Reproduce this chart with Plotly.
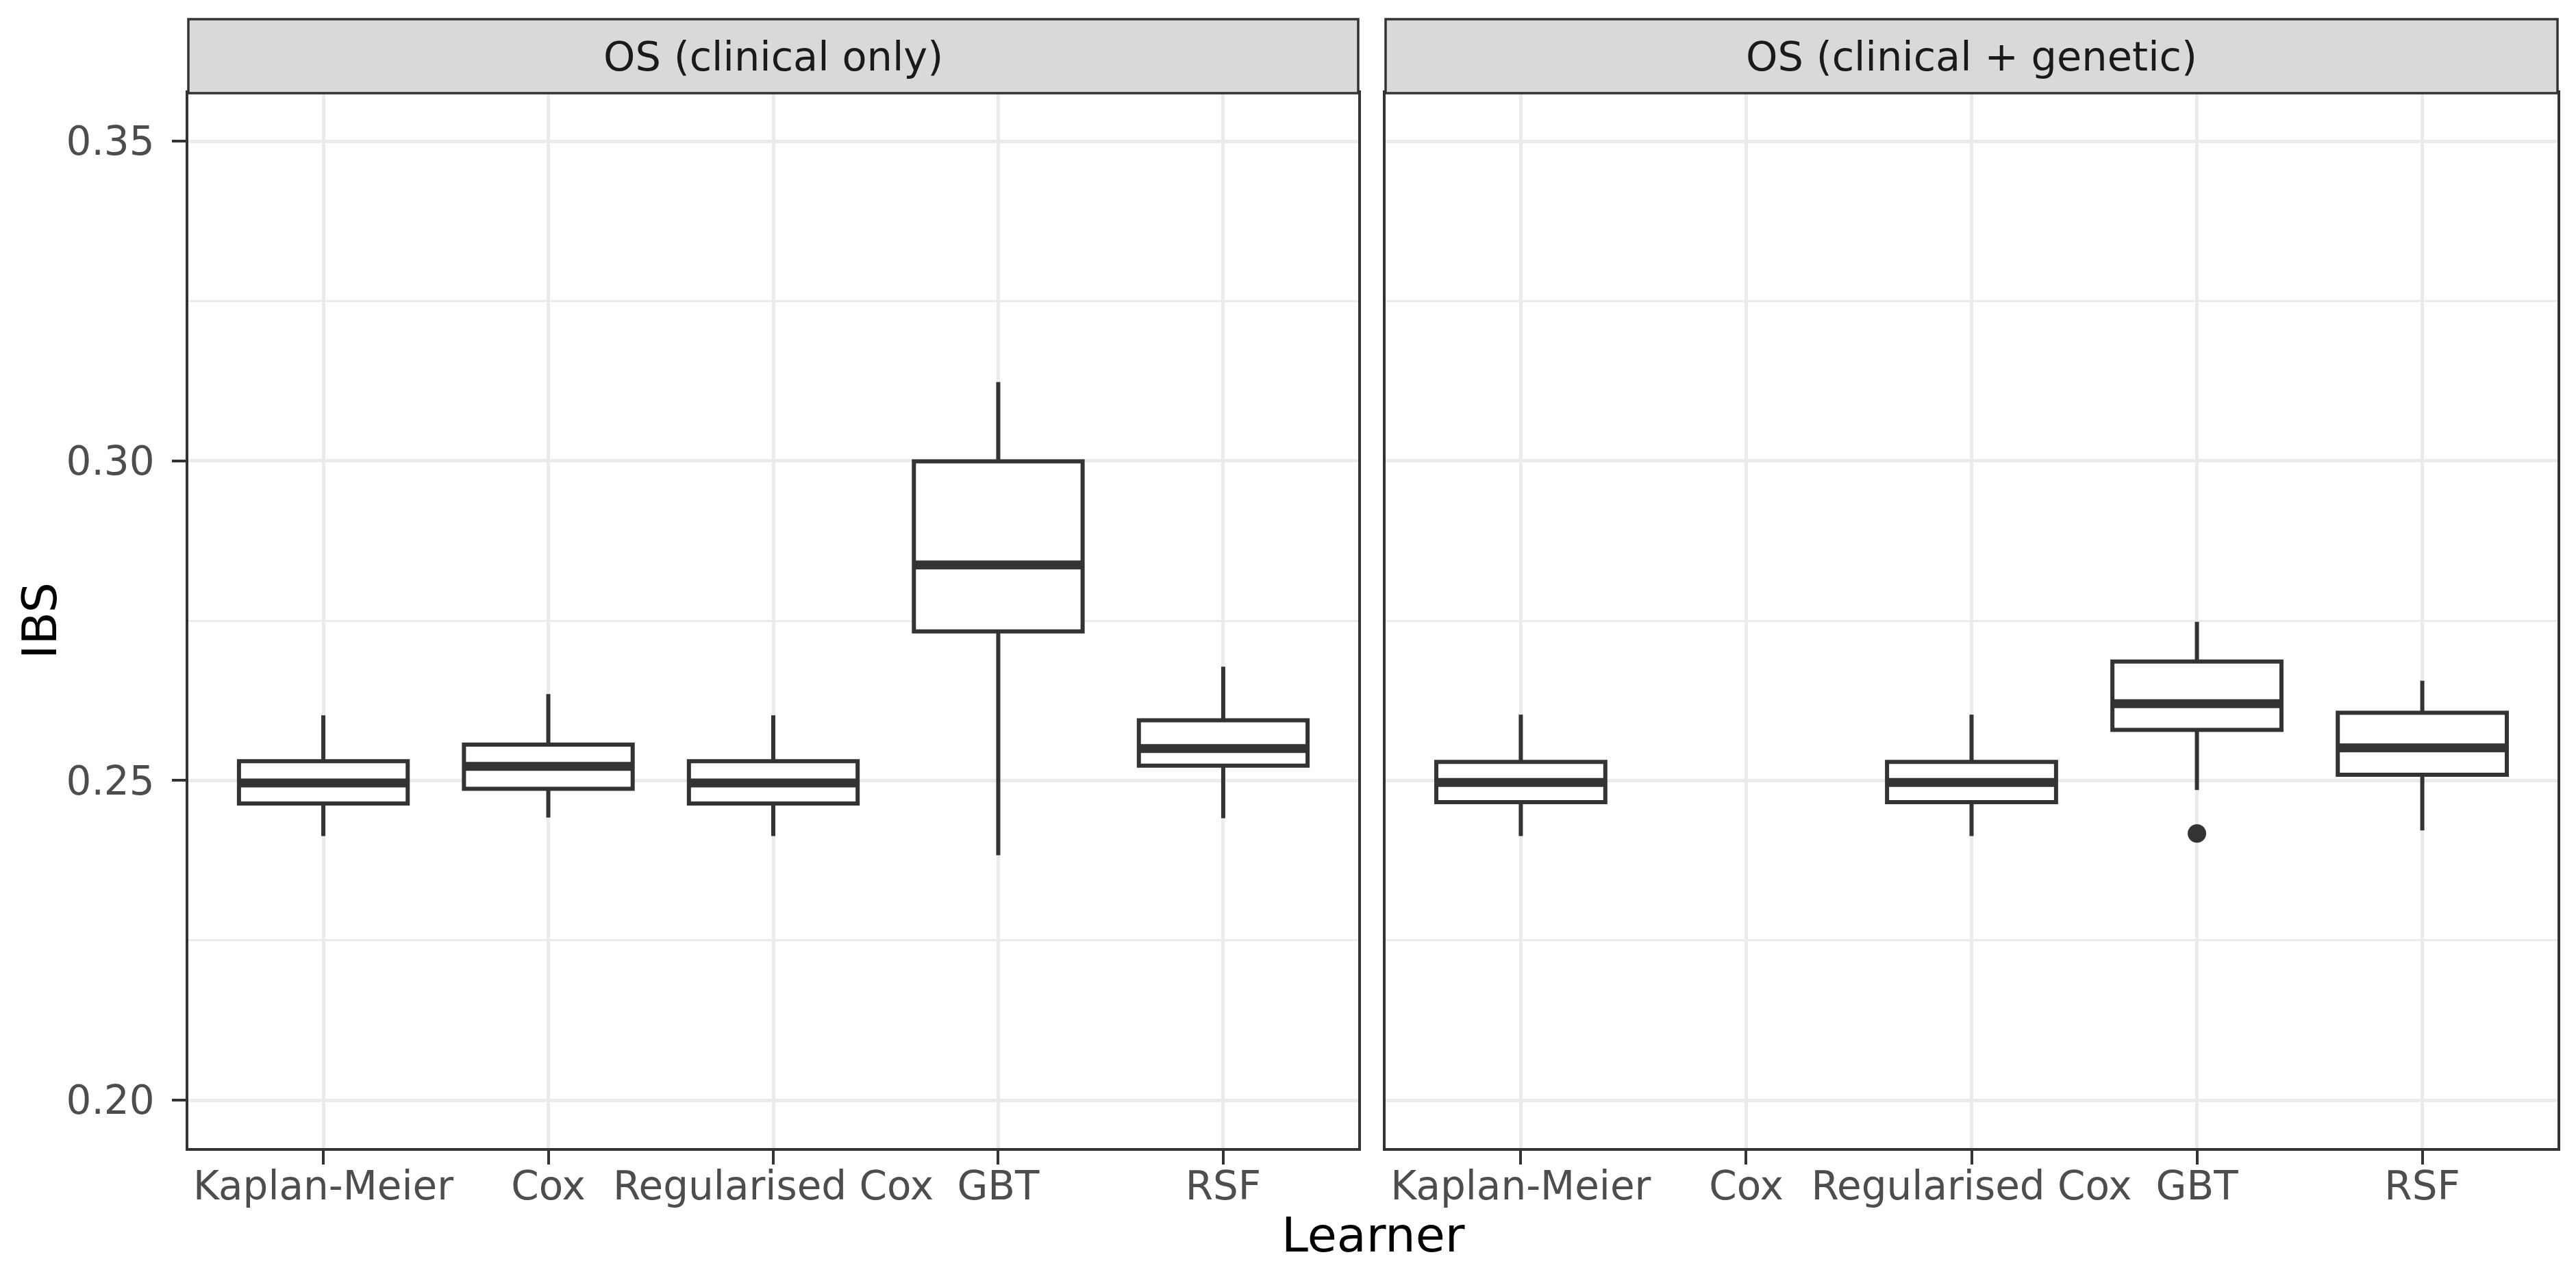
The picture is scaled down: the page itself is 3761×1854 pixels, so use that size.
import plotly.graph_objects as go

# ---------------- data ----------------
learners = ["Kaplan-Meier", "Cox", "Regularised Cox", "GBT", "RSF"]
panels = ["OS (clinical only)", "OS (clinical + genetic)"]

# clinical only
clin_lower = [0.2413, 0.2442, 0.2413, 0.2383, 0.2441]
clin_q1 = [0.2464, 0.2487, 0.2464, 0.2733, 0.2523]
clin_median = [0.2496, 0.2522, 0.2496, 0.2837, 0.2550]
clin_q3 = [0.2530, 0.2556, 0.2530, 0.2999, 0.2594]
clin_upper = [0.2602, 0.2635, 0.2602, 0.3123, 0.2678]

# clinical + genetic (Cox missing)
gen_lower = [0.2413, None, 0.2413, 0.2485, 0.2422]
gen_q1 = [0.2466, None, 0.2466, 0.2579, 0.2509]
gen_median = [0.2497, None, 0.2497, 0.2620, 0.2551]
gen_q3 = [0.2529, None, 0.2529, 0.2686, 0.2606]
gen_upper = [0.2603, None, 0.2603, 0.2748, 0.2656]

gen_outlier_learner = ["GBT"]
gen_outlier_value = [0.2417]

y_ticks = [0.20, 0.25, 0.30, 0.35]
y_limits = [0.20, 0.35]

# ---------------- styling ----------------
OFF = 8  # page body margin
W, H = 3761 - 2 * OFF, 1854 - 2 * OFF
ML = 275 - OFF
MT = 136 - OFF
MR = W - (3734 - OFF)
MB = H - (1676 - OFF)
BOX_W = 0.75
DARK = "#333333"
FONT = "DejaVu Sans"

fig = go.Figure()

series = [
    (clin_lower, clin_q1, clin_median, clin_q3, clin_upper),
    (gen_lower, gen_q1, gen_median, gen_q3, gen_upper),
]

for p, (lo, q1, md, q3, up) in enumerate(series):
    xa = "x" if p == 0 else "x2"
    ya = "y" if p == 0 else "y2"
    idx = [i for i in range(len(learners)) if md[i] is not None]
    fig.add_trace(go.Box(
        x=idx,
        q1=[q1[i] for i in idx],
        median=[md[i] for i in idx],
        q3=[q3[i] for i in idx],
        lowerfence=[lo[i] for i in idx],
        upperfence=[up[i] for i in idx],
        width=BOX_W,
        whiskerwidth=0,
        boxpoints=False,
        fillcolor="white",
        line=dict(color=DARK, width=6),
        xaxis=xa, yaxis=ya,
        showlegend=False, hoverinfo="skip",
    ))
    # thicker median bar (ggplot fatten)
    mx, my = [], []
    for i in idx:
        mx += [i - BOX_W / 2, i + BOX_W / 2, None]
        my += [md[i], md[i], None]
    fig.add_trace(go.Scatter(
        x=mx, y=my, mode="lines",
        line=dict(color=DARK, width=13),
        xaxis=xa, yaxis=ya, showlegend=False, hoverinfo="skip",
    ))

fig.add_trace(go.Scatter(
    x=[learners.index(l) for l in gen_outlier_learner],
    y=gen_outlier_value,
    mode="markers",
    marker=dict(color=DARK, size=27),
    xaxis="x2", yaxis="y2", showlegend=False, hoverinfo="skip",
))

plot_w = W - ML - MR
plot_h = H - MT - MB
d1 = (1983 - 275) / plot_w
d2 = (2023 - 275) / plot_w

span = y_limits[1] - y_limits[0]
yr = [y_limits[0] - 0.05 * span, y_limits[1] + 0.05 * span]

xcommon = dict(
    tickmode="array", tickvals=list(range(len(learners))), ticktext=learners,
    range=[-0.6, len(learners) - 0.4],
    showgrid=True, gridcolor="#EBEBEB", gridwidth=5,
    zeroline=False,
    showline=True, mirror=True, linecolor=DARK, linewidth=3.5,
    ticks="outside", ticklen=20, tickwidth=4, tickcolor=DARK,
    ticklabelstandoff=-18,
    tickfont=dict(family=FONT, size=58, color="#4D4D4D"),
)
ycommon = dict(
    range=yr, tickmode="array", tickvals=y_ticks,
    ticktext=[f"{v:.2f}" for v in y_ticks],
    showgrid=True, gridcolor="#EBEBEB", gridwidth=5,
    minor=dict(tickmode="array", tickvals=[0.225, 0.275, 0.325],
               showgrid=True, gridcolor="#EBEBEB", gridwidth=2.5, ticks=""),
    zeroline=False,
    showline=True, mirror=True, linecolor=DARK, linewidth=3.5,
)

fig.update_layout(
    width=W, height=H,
    margin=dict(l=ML, r=MR, t=MT, b=MB),
    paper_bgcolor="white", plot_bgcolor="white",
    boxmode="overlay",
    xaxis=dict(domain=[0, d1], anchor="y", **xcommon),
    xaxis2=dict(domain=[d2, 1], anchor="y2", **xcommon),
    yaxis=dict(anchor="x", ticks="outside", ticklen=20, tickwidth=4, tickcolor=DARK,
               tickfont=dict(family=FONT, size=58, color="#4D4D4D"),
               ticklabelstandoff=14, **ycommon),
    yaxis2=dict(anchor="x2", matches="y", showticklabels=False, ticks="", **ycommon),
)

strip_top = 1 + (136 - 28) / plot_h
for (x0, x1), label in zip([(0, d1), (d2, 1)], panels):
    fig.add_shape(type="rect", xref="paper", yref="paper",
                  x0=x0, x1=x1, y0=1, y1=strip_top,
                  fillcolor="#D9D9D9", line=dict(color=DARK, width=3.5), layer="above")
    fig.add_annotation(text=label, xref="paper", yref="paper",
                       x=(x0 + x1) / 2, y=(1 + strip_top) / 2,
                       xanchor="center", yanchor="middle", showarrow=False,
                       font=dict(family=FONT, size=59, color="#1A1A1A"))

fig.add_annotation(text="Learner", xref="paper", yref="paper",
                   x=0.5, y=-(1803 - 1676) / plot_h,
                   xanchor="center", yanchor="middle", showarrow=False,
                   font=dict(family=FONT, size=70, color="black"))
fig.add_annotation(text="IBS", xref="paper", yref="paper",
                   x=(58 - 275) / plot_w, y=0.5, textangle=-90,
                   xanchor="center", yanchor="middle", showarrow=False,
                   font=dict(family=FONT, size=70, color="black"))

fig.write_html("out.html")
